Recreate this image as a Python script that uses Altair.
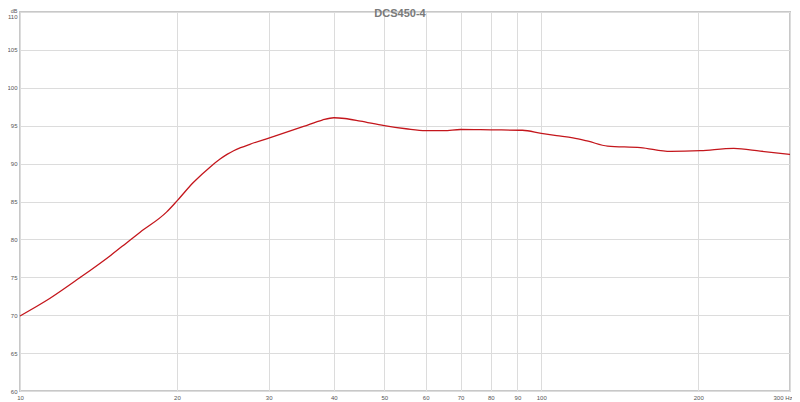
import altair as alt
import pandas as pd

# Frequency response
freq = [10, 11.4, 13.0, 14.9, 16.25, 17.0, 19.1, 20.05, 21.5, 23.2, 24.2, 25.0, 25.7,
        26.5, 27.6, 30.1, 35, 38, 40, 42, 45, 50, 55, 60, 65, 70, 80, 92, 100, 107,
        115, 123, 134, 155, 177, 202, 234, 263, 300]
spl = [69.9, 72.2, 74.9, 77.85, 79.9, 80.95, 83.6, 85.15, 87.5, 89.6, 90.6, 91.25, 91.7,
       92.1, 92.55, 93.4, 94.9, 95.75, 96.05, 95.95, 95.6, 95.0, 94.6, 94.35, 94.35,
       94.5, 94.45, 94.4, 94.0, 93.7, 93.4, 92.95, 92.3, 92.1, 91.6, 91.7, 92.0, 91.65,
       91.2]

x_ticks = [10, 20, 30, 40, 50, 60, 70, 80, 90, 100, 200, 300]
y_ticks = [60, 65, 70, 75, 80, 85, 90, 95, 100, 105, 110]
chart_title = ["DCS450-4"]

df = pd.DataFrame({"freq": freq, "spl": spl})

FONT = "Liberation Sans"
LABEL = "#555555"

line = alt.Chart(df).mark_line(
    color="#c4161c", strokeWidth=1.3, interpolate="monotone"
).encode(
    x=alt.X(
        "freq:Q",
        scale=alt.Scale(type="log", domain=[10, 300], nice=False),
        axis=alt.Axis(
            values=x_ticks, format="d", title=None,
            labelExpr="datum.value == 300 ? '300 Hz' : datum.label",
            labelAlign={"condition": {"test": "datum.value == 300", "value": "right"},
                        "value": "center"},
            labelOffset={"condition": {"test": "datum.value == 300", "value": 2},
                         "value": 0},
            labelOverlap=False, labelFlush=False, ticks=False, domain=False,
            labelPadding=3, labelFontSize=6, labelFont=FONT, labelColor=LABEL,
            gridColor="#dcdcdc", gridWidth=1,
        ),
    ),
    y=alt.Y(
        "spl:Q",
        scale=alt.Scale(domain=[60, 110], nice=False, zero=False),
        axis=alt.Axis(
            values=y_ticks, title="dB", titleAngle=0, titleX=-6.5, titleY=-4,
            titleAlign="center", titleBaseline="top", titleFontSize=5.5,
            titleFontWeight="normal", titleFont=FONT, titleColor=LABEL,
            labelOverlap=False, labelFlush=False, ticks=False, domain=False,
            labelPadding=3, labelFontSize=6, labelFont=FONT, labelColor=LABEL,
            labelBaseline={"condition": {"test": "datum.value == 110", "value": "top"},
                           "value": "middle"},
            labelOffset={"condition": {"test": "datum.value == 110", "value": 1.5},
                         "value": 0},
            gridColor="#dcdcdc", gridWidth=1,
        ),
    ),
)

title = alt.Chart(pd.DataFrame({"t": chart_title})).mark_text(
    font=FONT, fontSize=11, fontWeight="bold", color="#7a7a7a",
    align="center", baseline="top",
).encode(text="t:N", x=alt.value(380), y=alt.value(-4))

chart = alt.layer(line, title).properties(
    width=770, height=379,
    padding={"left": 12, "top": 4, "right": 2, "bottom": 11},
    autosize="none",
    background="white",
).configure_view(stroke="#c8c8c8", strokeWidth=2)

chart.save("out.html", embed_options={"renderer": "svg", "actions": False})
